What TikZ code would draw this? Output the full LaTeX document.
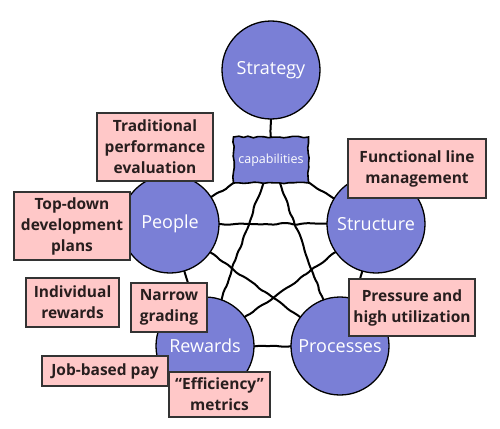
\documentclass[tikz,border=0pt]{standalone}
\usepackage{fontspec}
\setmainfont{Open Sans}
\usetikzlibrary{decorations.pathmorphing,backgrounds}
\definecolor{circblue}{RGB}{122,127,214}
\definecolor{pinkf}{RGB}{255,200,200}
\definecolor{txtdark}{RGB}{40,30,30}
\begin{document}
\pgfmathsetseed{7}
\begin{tikzpicture}[x=1pt,y=-1pt,
  bigcirc/.style={circle,draw=black,line width=1.3pt,fill=circblue,minimum size=98pt,inner sep=0pt,text=white,font=\fontsize{18}{20}\selectfont},
  pbox/.style={draw=black!80,line width=1.6pt,fill=pinkf,text=txtdark,font=\fontsize{15.5}{21}\selectfont\bfseries,align=center,inner sep=0pt},
  capbox/.style={draw=black,line width=1.6pt,fill=circblue,text=white,font=\fontsize{12.5}{14}\selectfont,minimum width=75pt,minimum height=46pt,inner sep=0pt,decorate,decoration={random steps,segment length=5pt,amplitude=0.8pt}},
  wire/.style={line width=2pt,decorate,decoration={random steps,segment length=7pt,amplitude=1.1pt},rounded corners=2pt}]
\useasboundingbox (0,0) rectangle (500,428);
\node[bigcirc] (strategy) at (271,70) {Strategy};
\node[bigcirc] (people) at (170,224) {People};
\node[bigcirc] (structure) at (376,224) {Structure};
\node[bigcirc] (rewards) at (205,346) {Rewards};
\node[bigcirc] (processes) at (340,346) {Processes};
\node[capbox] (cap) at (271,160) {capabilities};
\begin{scope}[on background layer]
\fill[white] (0,0) rectangle (500,428);
\draw[wire] (strategy.center) -- (cap.center);
\draw[wire] (cap.center) -- (people.center);
\draw[wire] (cap.center) -- (structure.center);
\draw[wire] (cap.center) -- (rewards.center);
\draw[wire] (cap.center) -- (processes.center);
\draw[wire] (people.center) -- (structure.center);
\draw[wire] (people.center) -- (rewards.center);
\draw[wire] (people.center) -- (processes.center);
\draw[wire] (structure.center) -- (rewards.center);
\draw[wire] (structure.center) -- (processes.center);
\draw[wire] (rewards.center) -- (processes.center);
\end{scope}
\node[pbox,minimum width=116pt,minimum height=68pt] (trad) at (155,147) {Traditional\\performance\\evaluation};
\node[pbox,minimum width=116pt,minimum height=68pt] (topdown) at (72,226) {Top-down\\development\\plans};
\node[pbox,minimum width=138pt,minimum height=59pt] (func) at (417,168.5) {Functional line\\management};
\node[pbox,minimum width=126pt,minimum height=57pt] (press) at (412,307.5) {Pressure and\\high utilization};
\node[pbox,minimum width=93pt,minimum height=49pt] (indiv) at (72.5,302.5) {Individual\\rewards};
\node[pbox,minimum width=76pt,minimum height=49pt] (narrow) at (169,307.5) {Narrow\\grading};
\node[pbox,minimum width=126pt,minimum height=30pt] (job) at (105,371) {Job-based pay};
\node[pbox,minimum width=101pt,minimum height=45pt] (eff) at (219.5,394.5) {“Efficiency”\\metrics};
\end{tikzpicture}
\end{document}
